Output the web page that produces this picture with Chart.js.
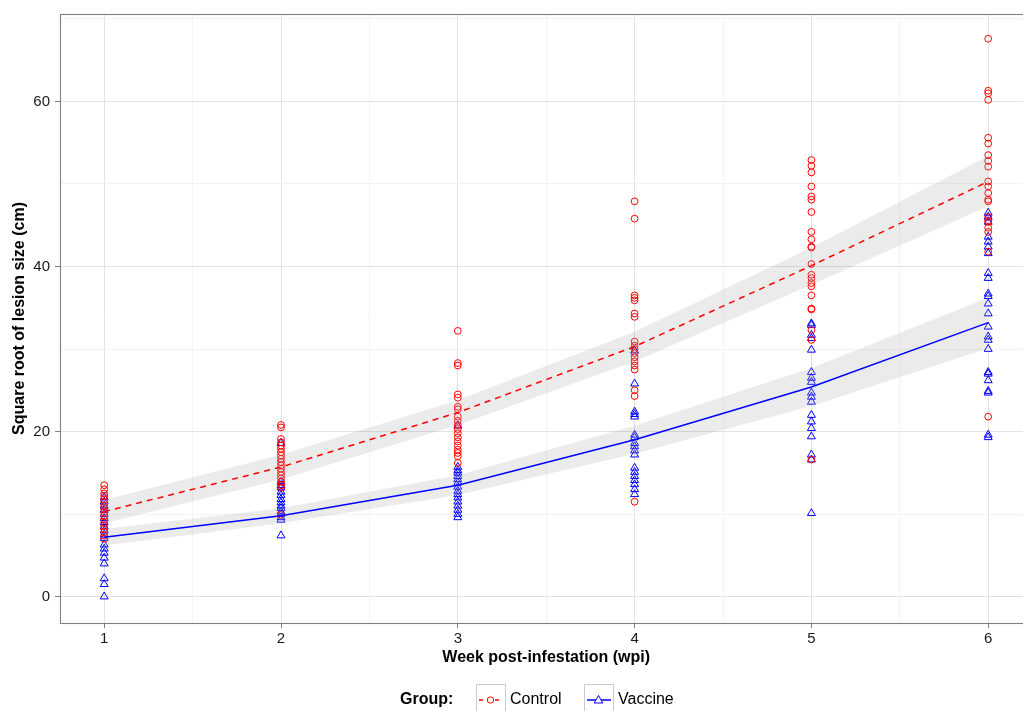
<!DOCTYPE html>
<html><head><meta charset="utf-8">
<script src="https://cdn.jsdelivr.net/npm/chart.js@4.4.1/dist/chart.umd.min.js"></script>
<style>html,body{margin:0;padding:0;background:#fff;overflow:hidden;width:1023px;height:711px;}canvas{display:block;}</style>
</head><body>
<canvas id="c" width="1038" height="711"></canvas>
<script>
// ---- data ----
const weeks = [1, 2, 3, 4, 5, 6];
const xMajorTicks = [1, 2, 3, 4, 5, 6];
const xMinorTicks = [1.5, 2.5, 3.5, 4.5, 5.5];
const yMajorTicks = [0, 20, 40, 60];
const yMinorTicks = [10, 30, 50, 70];
const groupNames = ['Control', 'Vaccine'];
const legendTitle = 'Group:';
const xTitle = 'Week post-infestation (wpi)';
const yTitle = 'Square root of lesion size (cm)';

const controlWeek1 = [13.5, 13.0, 12.5, 12.2, 11.8, 11.5, 11.0, 10.6, 10.2, 9.8, 9.4, 9.0, 8.6, 8.2, 7.8, 7.4, 7.0];
const controlWeek2 = [20.8, 20.5, 19.1, 18.7, 18.3, 17.9, 17.5, 17.1, 16.7, 16.3, 15.9, 15.5, 15.1, 14.7, 14.3, 13.9, 13.5, 13.2, 9.9];
const controlWeek3 = [32.2, 28.3, 28.0, 24.5, 24.1, 23.0, 22.7, 21.8, 21.3, 20.8, 20.3, 19.8, 19.3, 18.8, 18.3, 17.8, 17.4, 17.0, 16.2];
const controlWeek4 = [47.9, 45.8, 36.5, 36.2, 35.9, 34.3, 33.9, 30.9, 30.4, 30.0, 29.5, 29.0, 28.5, 28.0, 27.5, 25.0, 24.3, 11.5];
const controlWeek5 = [52.9, 52.2, 51.4, 49.7, 48.5, 48.1, 46.6, 44.2, 43.3, 42.4, 42.3, 40.3, 39.0, 38.6, 38.0, 37.6, 36.5, 34.9, 34.8, 32.3, 31.1, 16.6];
const controlWeek6 = [67.6, 61.3, 61.0, 60.2, 55.6, 54.9, 53.5, 52.8, 52.1, 50.3, 49.7, 48.9, 48.1, 47.9, 46.0, 45.6, 45.4, 44.7, 44.2, 41.8, 21.8];

const vaccineWeek1 = [12.0, 11.5, 11.0, 10.5, 10.0, 9.5, 9.0, 8.5, 8.0, 7.5, 7.1, 6.3, 5.8, 5.3, 4.7, 4.0, 2.2, 1.5, 0.0];
const vaccineWeek2 = [18.6, 13.9, 13.5, 13.2, 12.7, 12.3, 11.8, 11.4, 11.0, 10.7, 10.3, 10.0, 9.6, 9.3, 7.4];
const vaccineWeek3 = [20.7, 15.7, 15.3, 15.0, 14.6, 14.2, 13.8, 13.3, 12.8, 12.4, 12.0, 11.5, 11.0, 10.5, 10.0, 9.6];
const vaccineWeek4 = [29.8, 25.8, 22.4, 22.1, 21.8, 19.6, 19.3, 18.6, 18.2, 17.7, 17.2, 15.6, 15.1, 14.6, 14.1, 13.6, 13.0, 12.4];
const vaccineWeek5 = [33.1, 32.9, 31.7, 31.3, 29.9, 27.2, 26.5, 26.0, 24.7, 24.2, 23.6, 22.0, 21.2, 20.4, 19.4, 17.2, 16.6, 10.1];
const vaccineWeek6 = [46.5, 46.0, 45.4, 43.6, 43.0, 42.4, 41.6, 39.2, 38.6, 36.7, 36.4, 35.5, 34.3, 32.7, 31.5, 31.1, 30.0, 27.2, 27.0, 26.2, 24.9, 24.7, 19.6, 19.3];

const controlFit   = [10.3, 15.7, 22.3, 30.3, 40.1, 50.3];
const controlUpper = [11.7, 17.2, 23.8, 32.1, 42.3, 53.4];
const controlLower = [8.9, 14.2, 20.8, 28.5, 37.8, 47.3];
const vaccineFit   = [7.2, 9.8, 13.5, 19.0, 25.4, 33.2];
const vaccineUpper = [8.2, 10.7, 14.7, 20.7, 27.7, 36.2];
const vaccineLower = [6.2, 8.9, 12.3, 17.3, 23.1, 30.1];

// ---- build ----
const controlObs = [controlWeek1, controlWeek2, controlWeek3, controlWeek4, controlWeek5, controlWeek6];
const vaccineObs = [vaccineWeek1, vaccineWeek2, vaccineWeek3, vaccineWeek4, vaccineWeek5, vaccineWeek6];
const toPts = (obs) => weeks.flatMap((w, i) => obs[i].map(v => ({x: w, y: v})));
const toLine = (vals) => weeks.map((w, i) => ({x: w, y: vals[i]}));

const RED = '#ff0000', BLUE = '#0000ff';
const BAND = 'rgba(153,153,153,0.2)';
const FONT = '"Liberation Sans", Arial, Helvetica, sans-serif';

const bandCommon = {showLine: true, pointRadius: 0, pointHitRadius: 0, borderWidth: 0, borderColor: 'rgba(0,0,0,0)', tension: 0, order: 2};
const lineCommon = {showLine: true, pointRadius: 0, pointHitRadius: 0, borderWidth: 1.5, fill: false, tension: 0, order: 1};

const datasets = [
  Object.assign({label: 'cu', data: toLine(controlUpper), fill: 1, backgroundColor: BAND}, bandCommon),
  Object.assign({label: 'cl', data: toLine(controlLower), fill: false}, bandCommon),
  Object.assign({label: 'vu', data: toLine(vaccineUpper), fill: 3, backgroundColor: BAND}, bandCommon),
  Object.assign({label: 'vl', data: toLine(vaccineLower), fill: false}, bandCommon),
  Object.assign({label: groupNames[0] + ' fit', data: toLine(controlFit), borderColor: RED, borderDash: [6, 5]}, lineCommon),
  Object.assign({label: groupNames[1] + ' fit', data: toLine(vaccineFit), borderColor: BLUE}, lineCommon),
  {label: groupNames[0], data: toPts(controlObs), pointStyle: 'circle', pointRadius: 3.4, borderWidth: 1, borderColor: RED, backgroundColor: 'rgba(0,0,0,0)', showLine: false, order: 3},
  {label: groupNames[1], data: toPts(vaccineObs), pointStyle: 'triangle', pointRadius: 4.6, borderWidth: 1, borderColor: BLUE, backgroundColor: 'rgba(0,0,0,0)', showLine: false, order: 3},
];

const GRID_MAJOR = '#e2e2e2', GRID_MINOR = '#f3f3f3', AXIS = '#7f7f7f';

const panelPlugin = {
  id: 'panel',
  afterDraw(chart) {
    const {ctx, chartArea: a} = chart;
    ctx.save();
    ctx.strokeStyle = AXIS; ctx.lineWidth = 1.1;
    ctx.strokeRect(a.left + 0.5, a.top + 0.5, a.right - a.left, a.bottom - a.top);
    ctx.restore();
  }
};

const legendPlugin = {
  id: 'legendBottom',
  afterDraw(chart) {
    const ctx = chart.ctx;
    const cy = 700;
    ctx.save();
    ctx.textBaseline = 'middle';
    ctx.fillStyle = '#000';
    ctx.font = 'bold 16px ' + FONT;
    ctx.textAlign = 'left';
    ctx.fillText(legendTitle, 400, cy);
    const keys = [
      {x: 476, color: RED, dash: [4, 4], shape: 'circle', label: groupNames[0]},
      {x: 584, color: BLUE, dash: [], shape: 'triangle', label: groupNames[1]},
    ];
    keys.forEach(k => {
      ctx.fillStyle = '#fff';
      ctx.fillRect(k.x, 684, 29, 30);
      ctx.strokeStyle = '#cccccc'; ctx.lineWidth = 1; ctx.setLineDash([]);
      ctx.strokeRect(k.x + 0.5, 684.5, 29, 30);
      ctx.strokeStyle = k.color; ctx.lineWidth = 1.5; ctx.setLineDash(k.dash);
      ctx.beginPath(); ctx.moveTo(k.x + 3, cy); ctx.lineTo(k.x + 27, cy); ctx.stroke();
      ctx.setLineDash([]); ctx.lineWidth = 1;
      const mx = k.x + 14.5;
      ctx.beginPath();
      if (k.shape === 'circle') { ctx.arc(mx, cy, 3.2, 0, Math.PI * 2); }
      else { ctx.moveTo(mx, cy - 4.5); ctx.lineTo(mx + 4.3, cy + 3); ctx.lineTo(mx - 4.3, cy + 3); ctx.closePath(); }
      ctx.fillStyle = '#fff'; ctx.fill(); ctx.stroke();
      ctx.fillStyle = '#000';
      ctx.font = '16px ' + FONT;
      ctx.fillText(k.label, k.x + 34, cy);
    });
    ctx.restore();
  }
};

new Chart(document.getElementById('c'), {
  type: 'scatter',
  data: {datasets},
  options: {
    responsive: false,
    devicePixelRatio: 1,
    animation: false,
    events: [],
    layout: {padding: {top: 14, right: 0, bottom: 40, left: 0}},
    plugins: {legend: {display: false}, tooltip: {enabled: false}},
    scales: {
      x: {
        type: 'linear', min: 0.75, max: 6.25,
        afterFit: (s) => { s.height = 48; },
        afterBuildTicks: (s) => { s.ticks = [...xMajorTicks, ...xMinorTicks].sort((a, b) => a - b).map(v => ({value: v})); },
        ticks: {
          autoSkip: false, maxRotation: 0, padding: 2, color: '#1a1a1a',
          font: {family: FONT, size: 15},
          callback: (v) => xMajorTicks.includes(v) ? String(v) : ''
        },
        grid: {
          drawTicks: true, tickLength: 5,
          color: (c) => (c.tick && xMajorTicks.includes(c.tick.value)) ? GRID_MAJOR : GRID_MINOR,
          tickColor: (c) => (c.tick && xMajorTicks.includes(c.tick.value)) ? AXIS : 'rgba(0,0,0,0)',
          lineWidth: 1
        },
        border: {display: false},
        title: {display: true, text: xTitle, color: '#000', font: {family: FONT, size: 16, weight: 'bold'}, padding: {top: 0, bottom: 4}}
      },
      y: {
        type: 'linear', min: -3.2, max: 70.6,
        afterFit: (s) => { s.width = 60; },
        afterBuildTicks: (s) => { s.ticks = [...yMajorTicks, ...yMinorTicks].sort((a, b) => a - b).map(v => ({value: v})); },
        ticks: {
          autoSkip: false, padding: 5, color: '#1a1a1a',
          font: {family: FONT, size: 15},
          callback: (v) => yMajorTicks.includes(v) ? String(v) : ''
        },
        grid: {
          drawTicks: true, tickLength: 5,
          color: (c) => (c.tick && yMajorTicks.includes(c.tick.value)) ? GRID_MAJOR : GRID_MINOR,
          tickColor: (c) => (c.tick && yMajorTicks.includes(c.tick.value)) ? AXIS : 'rgba(0,0,0,0)',
          lineWidth: 1
        },
        border: {display: false},
        title: {display: true, text: yTitle, color: '#000', font: {family: FONT, size: 16, weight: 'bold'}, padding: {top: 10, bottom: 0}}
      }
    }
  },
  plugins: [panelPlugin, legendPlugin]
});
</script>
</body></html>
